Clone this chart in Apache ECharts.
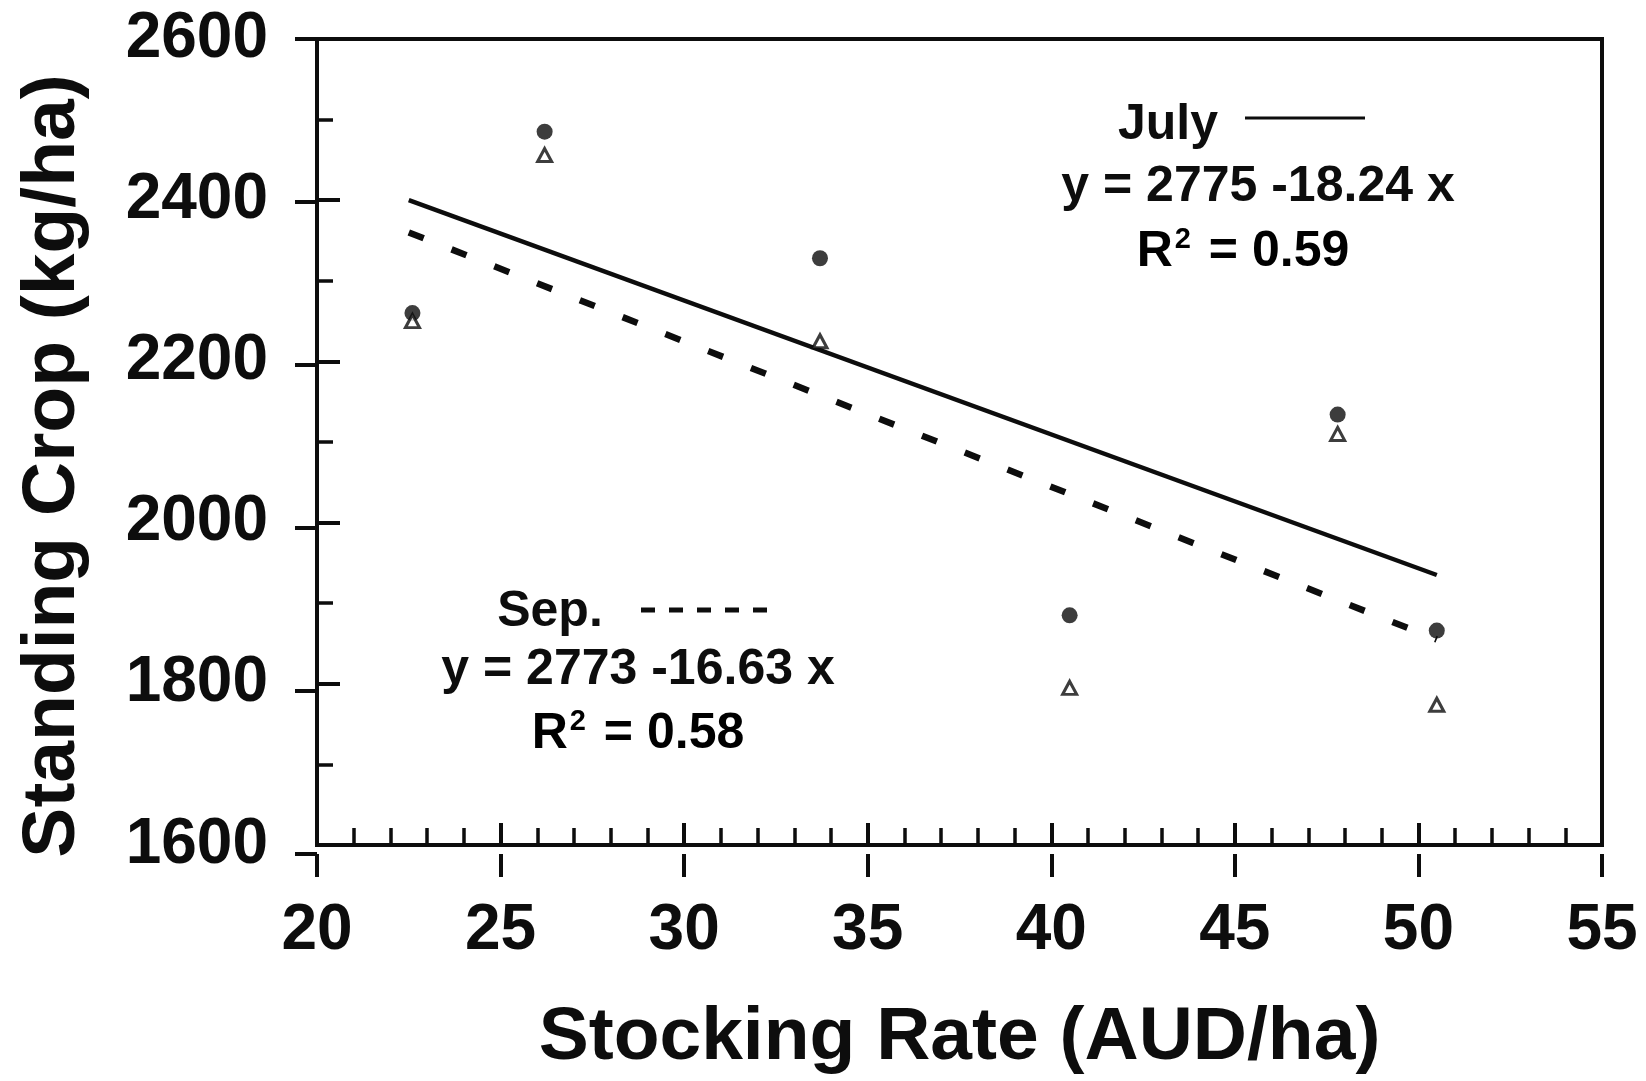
<!DOCTYPE html>
<html>
<head>
<meta charset="utf-8">
<script src="https://cdn.jsdelivr.net/npm/echarts@6/dist/echarts.min.js"></script>
<style>
  html, body { margin: 0; padding: 0; background: #fff; }
  #chart { width: 1646px; height: 1081px; }
</style>
</head>
<body>
<div id="chart"></div>
<script>
// stocking rate (AUD/ha) of the six paddocks
const stockingRate = [22.6, 26.2, 33.7, 40.5, 47.8, 50.5];
// standing crop (kg/ha)
const julyCrop = [2260, 2485, 2328, 1885, 2134, 1866];
const sepCrop = [2250, 2456, 2225, 1795, 2110, 1774];
// fitted lines, end points as drawn
const julyFitX = [22.5, 50.5];
const julyFitY = [2400, 1935];
const sepFitX = [22.5, 50.5];
const sepFitY = [2360, 1855];
// axis ranges
const xRange = [20, 55, 5];
const yRange = [1600, 2600, 200];

const ink = '#0d0d0d';
const fontFam = '"Liberation Sans", Arial, Helvetica, sans-serif';

function pairs(xs, ys) {
  return xs.map((x, i) => [x, ys[i]]);
}

let myChart = echarts.init(document.getElementById('chart'));

const baseX = {
  type: 'value',
  min: xRange[0],
  max: xRange[1],
  interval: xRange[2],
  splitLine: { show: false }
};
const baseY = {
  type: 'value',
  min: yRange[0],
  max: yRange[1],
  interval: yRange[2],
  splitLine: { show: false }
};
const gridBox = { left: 317, right: 44, top: 39, bottom: 227 };
const richR = {
  a: { color: ink, fontSize: 50, fontWeight: 'bold', fontFamily: fontFam },
  s: { color: ink, fontSize: 29, fontWeight: 'bold', fontFamily: fontFam, padding: [0, 4, 24, 2] }
};

const option = {
  backgroundColor: '#fff',
  animation: false,
  grid: [
    Object.assign({ show: true, borderColor: ink, borderWidth: 4, backgroundColor: 'transparent' }, gridBox),
    Object.assign({}, gridBox)
  ],
  xAxis: [
    Object.assign({}, baseX, {
      gridIndex: 0,
      position: 'bottom',
      axisLine: { show: true, lineStyle: { color: ink, width: 4 } },
      axisTick: { show: true, inside: true, length: 22, lineStyle: { color: ink, width: 4 } },
      minorTick: { show: true, splitNumber: 5, length: 17, lineStyle: { color: ink, width: 3.5 } },
      axisLabel: { color: ink, fontSize: 64, fontWeight: 'bold', fontFamily: fontFam, margin: 54 },
      name: 'Stocking Rate (AUD/ha)',
      nameLocation: 'middle',
      nameGap: 156,
      nameTextStyle: { color: ink, fontSize: 75, fontWeight: 'bold', fontFamily: fontFam }
    }),
    Object.assign({}, baseX, {
      gridIndex: 1,
      position: 'bottom',
      axisLine: { show: false },
      axisTick: { show: true, inside: false, length: 23, lineStyle: { color: ink, width: 4 } },
      axisLabel: { show: false }
    })
  ],
  yAxis: [
    Object.assign({}, baseY, {
      gridIndex: 0,
      position: 'left',
      axisLine: { show: true, lineStyle: { color: ink, width: 4 } },
      axisTick: { show: true, inside: true, length: 23, lineStyle: { color: ink, width: 4 } },
      minorTick: { show: true, splitNumber: 2, length: 16, lineStyle: { color: ink, width: 3.5 } },
      axisLabel: {
        color: ink, fontSize: 64, fontWeight: 'bold', fontFamily: fontFam, margin: 49,
        formatter: v => String(v)
      }
    }),
    Object.assign({}, baseY, {
      gridIndex: 1,
      position: 'left',
      axisLine: { show: false },
      axisTick: { show: true, inside: false, length: 22, lineStyle: { color: ink, width: 4 } },
      axisLabel: { show: false }
    })
  ],
  graphic: [
    // y axis title
    {
      type: 'text', x: 53, y: 466, rotation: Math.PI / 2,
      style: {
        text: 'Standing Crop (kg/ha)', fill: ink,
        font: 'bold 75px ' + fontFam, textAlign: 'center', textVerticalAlign: 'middle'
      }
    },
    // July key + equation
    {
      type: 'text', x: 1168, y: 125,
      style: { text: 'July', fill: ink, font: 'bold 50px ' + fontFam, textAlign: 'center', textVerticalAlign: 'middle' }
    },
    {
      type: 'line', shape: { x1: 1245, y1: 118, x2: 1365, y2: 118 },
      style: { stroke: ink, lineWidth: 3 }
    },
    {
      type: 'text', x: 1258, y: 187,
      style: { text: 'y = 2775 -18.24 x', fill: ink, font: 'bold 50px ' + fontFam, textAlign: 'center', textVerticalAlign: 'middle' }
    },
    {
      type: 'text', x: 1243, y: 252,
      style: { text: '{a|R}{s|2}{a| = 0.59}', textAlign: 'center', textVerticalAlign: 'middle', rich: richR }
    },
    // Sep key + equation
    {
      type: 'text', x: 550, y: 612,
      style: { text: 'Sep.', fill: ink, font: 'bold 50px ' + fontFam, textAlign: 'center', textVerticalAlign: 'middle' }
    },
    {
      type: 'line', shape: { x1: 641, y1: 610, x2: 769, y2: 610 },
      style: { stroke: ink, lineWidth: 5, lineDash: [14, 14] }
    },
    {
      type: 'text', x: 638, y: 670,
      style: { text: 'y = 2773 -16.63 x', fill: ink, font: 'bold 50px ' + fontFam, textAlign: 'center', textVerticalAlign: 'middle' }
    },
    {
      type: 'text', x: 638, y: 734,
      style: { text: '{a|R}{s|2}{a| = 0.58}', textAlign: 'center', textVerticalAlign: 'middle', rich: richR }
    }
  ],
  series: [
    {
      name: 'July fit',
      type: 'line',
      xAxisIndex: 0, yAxisIndex: 0,
      data: pairs(julyFitX, julyFitY),
      showSymbol: false,
      symbol: 'none',
      lineStyle: { color: ink, width: 4.5, type: 'solid' },
      z: 2
    },
    {
      name: 'Sep fit',
      type: 'line',
      xAxisIndex: 0, yAxisIndex: 0,
      data: pairs(sepFitX, sepFitY),
      showSymbol: false,
      symbol: 'none',
      lineStyle: { color: ink, width: 6.5, type: [16, 30] },
      z: 2
    },
    {
      name: 'July',
      type: 'scatter',
      xAxisIndex: 0, yAxisIndex: 0,
      data: pairs(stockingRate, julyCrop),
      symbol: 'circle',
      symbolSize: 16,
      itemStyle: { color: ink },
      z: 3
    },
    {
      name: 'Sep.',
      type: 'scatter',
      xAxisIndex: 0, yAxisIndex: 0,
      data: pairs(stockingRate, sepCrop),
      symbol: 'triangle',
      symbolSize: [14, 13],
      itemStyle: { color: '#fff', borderColor: ink, borderWidth: 3 },
      z: 3
    }
  ]
};

myChart.setOption(option);
</script>
</body>
</html>
